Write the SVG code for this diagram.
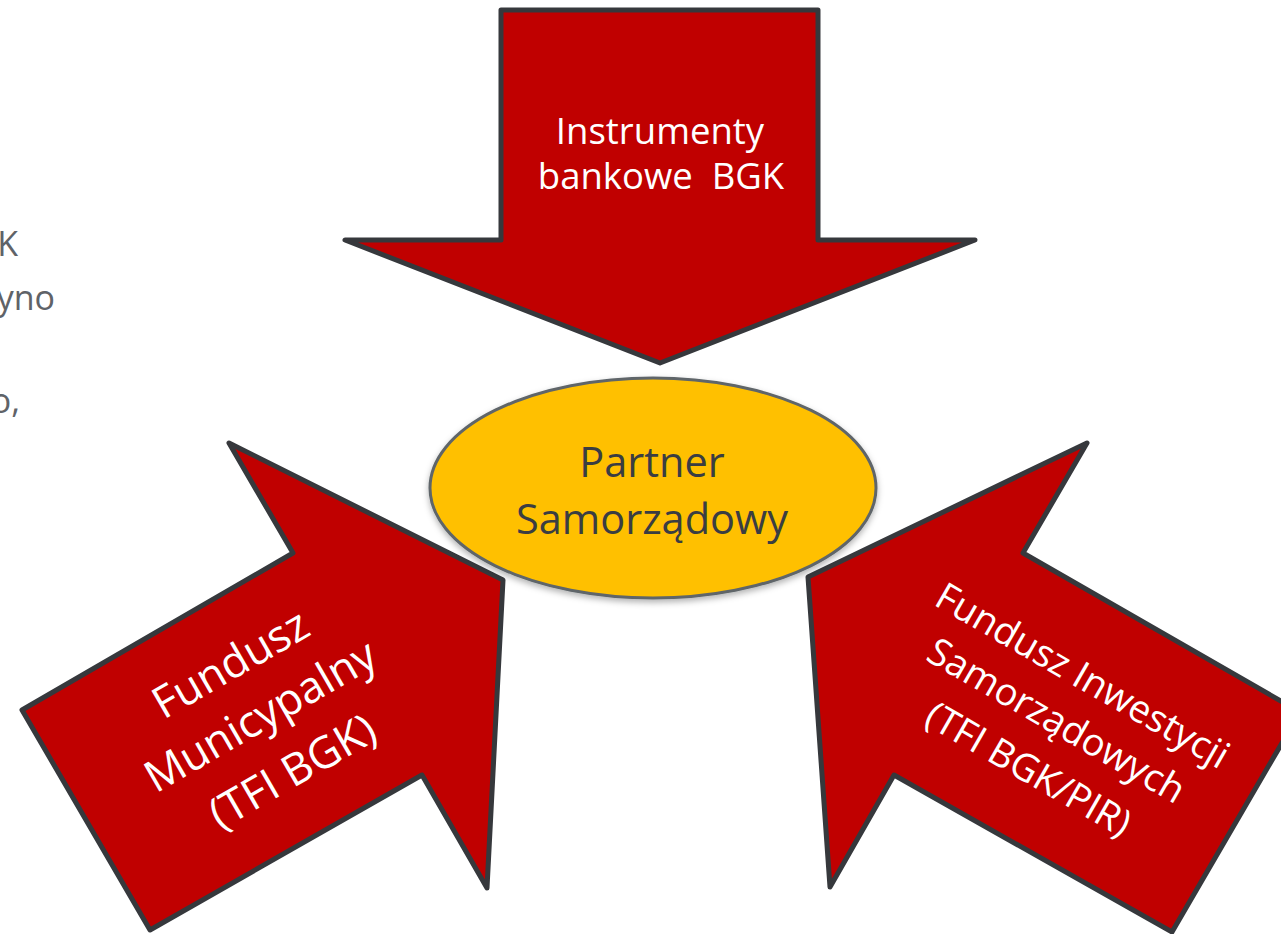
<svg xmlns="http://www.w3.org/2000/svg" width="1281" height="934" viewBox="0 0 1281 934">
  <defs>
    <filter id="shadow" x="-10%" y="-10%" width="120%" height="130%">
      <feDropShadow dx="0" dy="3" stdDeviation="3" flood-color="#000" flood-opacity="0.3"/>
    </filter>
  </defs>
  <style>
    .arrow { fill: #C00000; stroke: #36383C; stroke-width: 5; stroke-linejoin: round; }
    .lbl { font-family: "Open Sans", "Liberation Sans", sans-serif; fill: #FFFFFF; text-anchor: middle; }
    .side { font-family: "Open Sans", "Liberation Sans", sans-serif; fill: #5F6368; font-size: 34px; text-anchor: end; }
    .center { font-family: "Open Sans", "Liberation Sans", sans-serif; fill: #3A3D42; font-size: 41.5px; text-anchor: middle; }
  </style>
  <rect width="1281" height="934" fill="#FFFFFF"/>
  <g id="side-text">
    <text class="side" x="18" y="256">K</text>
    <text class="side" x="55" y="310">yno</text>
    <text class="side" x="20" y="413">o,</text>
  </g>
  <g id="connectors"></g>
  <g id="node-top">
    <polygon class="arrow" points="501,10 818,10 818,240 975,240 660,363 345,240 501,240"/>
    <text class="lbl" font-size="36.5" x="660" y="144">Instrumenty</text>
    <text class="lbl" font-size="36.5" x="661" y="189" xml:space="preserve">bankowe  BGK</text>
  </g>
  <g id="node-left">
    <polygon class="arrow" points="229,443 503,580 487,888 422,775 150,930 22,710 293,553"/>
    <g transform="translate(268,729) rotate(-30)">
      <text class="lbl" font-size="44" x="0" y="-60">Fundusz</text>
      <text class="lbl" font-size="44" x="0" y="0">Municypalny</text>
      <text class="lbl" font-size="44" x="0" y="64">(TFI BGK)</text>
    </g>
  </g>
  <g id="node-right">
    <polygon class="arrow" points="1087,443 808,577 830,887 894,775 1172,932 1300,712 1023,553"/>
    <g transform="translate(1050,732) rotate(30)">
      <text class="lbl" font-size="38" x="0" y="-52">Fundusz Inwestycji</text>
      <text class="lbl" font-size="38" x="0" y="0">Samorządowych</text>
      <text class="lbl" font-size="38" x="0" y="56">(TFI BGK/PIR)</text>
    </g>
  </g>
  <g id="node-center">
    <ellipse cx="653" cy="488" rx="223" ry="110" fill="#FFC000" stroke="#5F6569" stroke-width="3" filter="url(#shadow)"/>
    <text class="center" x="652" y="477">Partner</text>
    <text class="center" x="652" y="534">Samorządowy</text>
  </g>
</svg>
